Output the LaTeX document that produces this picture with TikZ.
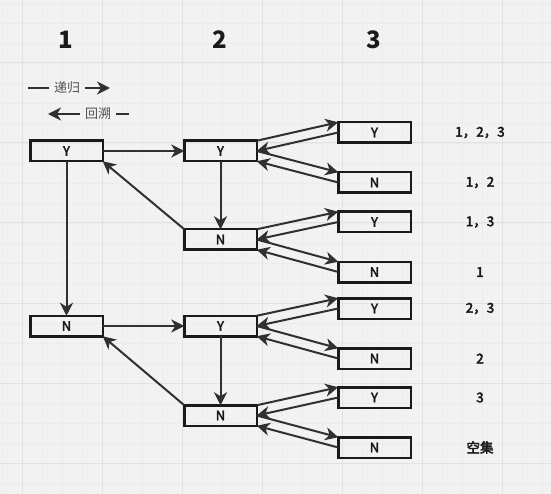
\documentclass[tikz,border=0pt]{standalone}
\usepackage{fontspec}
\setmainfont{Noto Sans CJK SC}
\newfontfamily\semib[FakeBold=3]{Noto Sans CJK SC}
\usetikzlibrary{arrows.meta}
\definecolor{bgc}{HTML}{F2F2F2}
\definecolor{majorc}{HTML}{E2E2E2}
\definecolor{minorc}{HTML}{ECECEC}
\definecolor{linec}{HTML}{303030}
\definecolor{boxc}{HTML}{1A1A1A}
\tikzset{
  box/.style={draw=boxc, line width=2.5pt, minimum width=72.5pt, minimum height=20.5pt, inner sep=0pt, outer sep=0pt, text=boxc, font=\fontsize{13}{15}\selectfont\semib},
  arr/.style={draw=linec, line width=2pt, -{Stealth[length=13pt,width=13pt,inset=4pt]}},
  legline/.style={draw=linec, line width=2pt},
  hdr/.style={text=boxc, font=\fontsize{24}{28}\selectfont\bfseries},
  res/.style={text=boxc, font=\fontsize{13.5}{15}\selectfont\semib},
  leg/.style={text=linec!85, font=\fontsize{13}{15}\selectfont, inner sep=1pt}
}
\begin{document}
\begin{tikzpicture}[x=1pt,y=-1pt]
\fill[bgc] (0,0) rectangle (551,494);
\useasboundingbox (0,0) rectangle (551,494);
\foreach \x in {2,22,...,542} \draw[minorc, line width=0.6pt] (\x,0) -- (\x,494);
\foreach \y in {3,23,...,483} \draw[minorc, line width=0.6pt] (0,\y) -- (551,\y);
\foreach \x in {22,102,...,502} \draw[majorc, line width=1pt] (\x,0) -- (\x,494);
\foreach \y in {63,143,...,463} \draw[majorc, line width=1pt] (0,\y) -- (551,\y);

% headers
\node[hdr] (h1) at (66,40) {1};
\node[hdr] (h2) at (220,40) {2};
\node[hdr] (h3) at (374,40) {3};

% legend
\node[leg] (rec) at (67,88) {递归};
\coordinate (r0) at (28,88);
\coordinate (r1) at (110,88);
\draw[legline] (r0) -- ([xshift=-4pt]rec.west);
\draw[arr] ([xshift=4pt]rec.east) -- (r1);
\node[leg] (bak) at (98,114) {回溯};
\coordinate (b0) at (48,114);
\coordinate (b1x) at (129,114);
\draw[arr] ([xshift=-4pt]bak.west) -- (b0);
\draw[legline] ([xshift=4pt]bak.east) -- (b1x);

% column 1
\node[box] (a1) at (66.5,151) {Y};
\node[box] (a2) at (66.5,326) {N};
% column 2
\node[box] (b1) at (220.5,151) {Y};
\node[box] (b2) at (220.5,239.5) {N};
\node[box] (b3) at (220.5,326) {Y};
\node[box] (b4) at (220.5,415.5) {N};
% column 3
\node[box] (c1) at (374.5,132.5) {Y};
\node[box] (c2) at (374.5,182.5) {N};
\node[box] (c3) at (374.5,222) {Y};
\node[box] (c4) at (374.5,272) {N};
\node[box] (c5) at (374.5,308.5) {Y};
\node[box] (c6) at (374.5,358.5) {N};
\node[box] (c7) at (374.5,397.5) {Y};
\node[box] (c8) at (374.5,447.5) {N};

% results
\node[res] (r1t) at (480,132.5) {1，2，3};
\node[res] (r2t) at (480,182.5) {1，2};
\node[res] (r3t) at (480,222) {1，3};
\node[res] (r4t) at (480,272) {1};
\node[res] (r5t) at (480,308.5) {2，3};
\node[res] (r6t) at (480,358.5) {2};
\node[res] (r7t) at (480,397.5) {3};
\node[res] (r8t) at (480,447.5) {空集};

% edges
\draw[arr] (a1.east) -- (b1.west);
\draw[arr] (a1.south) -- (a2.north);
\draw[arr] (b1.south) -- (b2.north);
\draw[arr] (b2.north west) -- (a1.south east);
\draw[arr] (a2.east) -- (b3.west);
\draw[arr] (b3.south) -- (b4.north);
\draw[arr] (b4.north west) -- (a2.south east);

\foreach \p/\y/\n in {b1/c1/c2, b2/c3/c4, b3/c5/c6, b4/c7/c8} {
  \draw[arr] (\p.north east) -- (\y.north west);
  \draw[arr] (\y.west) -- (\p.east);
  \draw[arr] (\p.east) -- (\n.north west);
  \draw[arr] (\n.west) -- (\p.south east);
}
\end{tikzpicture}
\end{document}
